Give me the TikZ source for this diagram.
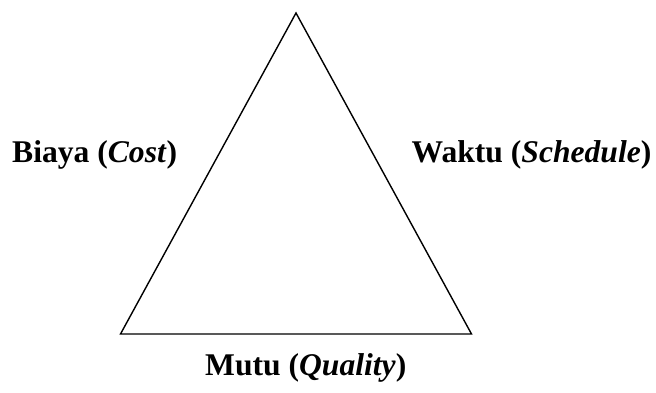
\documentclass[tikz,border=0pt]{standalone}
\usepackage{fontspec}
\setmainfont{Liberation Serif}
\begin{document}
\begin{tikzpicture}[x=1pt,y=-1pt,
  lbl/.style={anchor=base west,inner sep=0pt,font=\fontsize{31.6}{38}\selectfont\bfseries},
  tri/.style={draw=black,line width=1.4pt,line join=miter}]
\useasboundingbox (0,0) rectangle (656,393);
\coordinate (top) at (296,13);
\coordinate (bl) at (120.5,334);
\coordinate (br) at (471.5,334);
\draw[tri] (top) -- (bl) -- (br) -- cycle;
\node[lbl] (biaya) at (12,163) {Biaya (\textit{Cost})};
\node[lbl] (waktu) at (411.5,163) {Waktu (\textit{Schedule})};
\node[lbl] (mutu) at (205,375) {Mutu (\textit{Quality})};
\end{tikzpicture}
\end{document}
